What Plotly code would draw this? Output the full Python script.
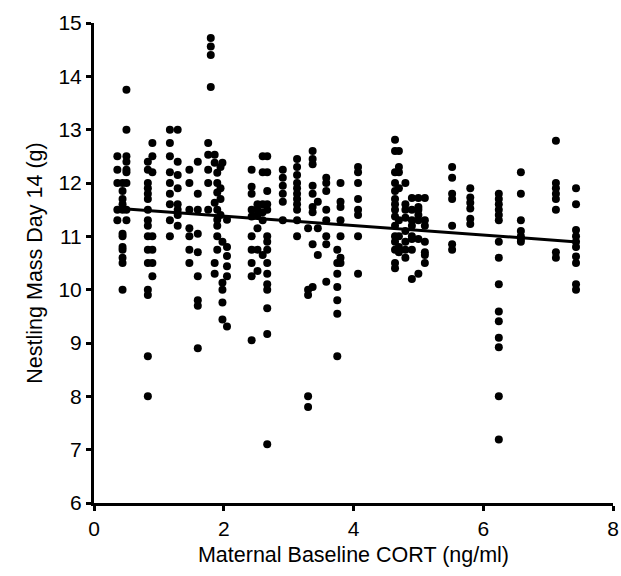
import plotly.graph_objects as go

# Maternal baseline CORT (ng/ml) for each nest column
cort = [0.36, 0.44, 0.50, 0.83, 0.90, 1.17, 1.29, 1.47, 1.60,
        1.76, 1.80, 1.86, 1.90, 1.95, 1.98, 2.05,
        2.43, 2.52, 2.60, 2.67, 2.91, 3.13,
        3.30, 3.37, 3.45, 3.58, 3.75, 3.80, 4.07,
        4.64, 4.70, 4.80, 4.90, 5.00, 5.10,
        5.52, 5.80, 6.24, 6.58, 7.12, 7.43]

# Nestling mass day 14 (g) for each column
mass = [
    [12.5, 12.25, 12.0, 11.5, 11.3],
    [12.0, 11.85, 11.7, 11.6, 11.5, 11.05, 11.0, 10.8, 10.75, 10.6, 10.5, 10.0],
    [13.75, 13.0, 12.5, 12.4, 12.25, 12.2, 12.0, 11.5, 11.3],
    [12.4, 12.25, 12.0, 11.9, 11.8, 11.7, 11.5, 11.3, 11.2, 11.0, 10.75, 10.5, 10.0, 9.9, 8.75, 8.0],
    [12.75, 12.5, 12.2, 11.0, 10.75, 10.5, 10.25],
    [13.0, 12.75, 12.5, 12.2, 12.0, 11.8, 11.6, 11.3, 11.0],
    [13.0, 12.4, 12.15, 11.9, 11.6, 11.5, 11.4, 11.2],
    [12.25, 12.0, 11.5, 11.15, 11.0, 10.75, 10.5],
    [12.4, 11.8, 11.5, 11.05, 10.7, 10.25, 9.8, 9.7, 8.9],
    [12.75, 12.53, 12.25, 12.0, 11.5],
    [14.72, 14.56, 14.4, 13.8],
    [12.53, 12.38, 11.63, 10.5, 10.3],
    [12.19, 12.0, 11.82, 11.5, 11.31, 11.2, 11.0, 10.75],
    [12.3, 11.9, 11.7, 11.4],
    [12.38, 10.9, 10.13, 10.0, 9.76, 9.44],
    [11.31, 10.8, 10.63, 10.44, 10.25, 9.31],
    [12.25, 11.93, 11.8, 11.5, 11.37, 11.0, 10.75, 10.5, 10.25, 9.05],
    [11.6, 11.5, 11.4, 11.15, 10.75, 10.35],
    [12.5, 12.2, 11.6, 11.45, 11.3, 10.65],
    [12.5, 12.2, 11.85, 11.6, 11.5, 11.0, 10.9, 10.75, 10.5, 10.3, 10.1, 10.0, 9.65, 9.17, 7.1],
    [12.25, 12.1, 11.95, 11.8, 11.65, 11.3],
    [12.45, 12.3, 12.15, 12.0, 11.9, 11.8, 11.7, 11.6, 11.5, 11.3, 11.0],
    [11.15, 10.0, 9.9, 8.0, 7.8],
    [12.6, 12.45, 12.35, 11.95, 11.8, 11.55, 11.45, 10.85, 10.05],
    [11.65, 11.15, 10.65],
    [12.1, 12.0, 11.85, 11.5, 11.3, 11.0, 10.85, 10.15],
    [10.75, 10.5, 10.3, 10.05, 9.8, 9.55, 8.75],
    [12.0, 11.65, 11.55, 11.3, 11.0, 10.6, 10.5],
    [12.3, 12.2, 12.0, 11.7, 11.5, 11.4, 11.0, 10.3],
    [12.81, 12.6, 12.2, 12.0, 11.85, 11.7, 11.6, 11.5, 11.37, 11.2, 11.0, 10.9, 10.75, 10.5, 10.4],
    [12.6, 12.3, 12.2, 11.9, 11.3, 11.0, 10.8, 10.7],
    [12.0, 11.6, 11.5, 11.35, 11.1, 10.9, 10.75, 10.6],
    [11.72, 11.5, 11.3, 11.2, 11.0, 10.95, 10.75, 10.2],
    [11.72, 11.55, 11.5, 11.4, 11.3, 10.95, 10.3],
    [11.72, 11.3, 11.2, 10.9, 10.7, 10.65, 10.5],
    [12.3, 12.1, 11.8, 11.7, 11.2, 10.85, 10.75],
    [11.9, 11.73, 11.63, 11.52, 11.33, 11.23],
    [11.8, 11.7, 11.6, 11.5, 11.4, 11.3, 10.9, 10.6, 10.1, 9.59, 9.41, 9.1, 8.92, 8.0, 7.19],
    [12.2, 11.8, 11.3, 11.1, 11.0, 10.95, 10.9],
    [12.79, 12.0, 11.9, 11.8, 11.7, 11.5, 10.7, 10.6],
    [11.9, 11.6, 11.12, 11.0, 10.9, 10.8, 10.62, 10.5, 10.1, 10.0],
]

# Regression line end points
fit_x = [0.4, 7.4]
fit_y = [11.52, 10.9]

x_ticks = [0, 2, 4, 6, 8]
y_ticks = [6, 7, 8, 9, 10, 11, 12, 13, 14, 15]

xs, ys = [], []
for cx, col in zip(cort, mass):
    for v in col:
        xs.append(cx)
        ys.append(v)

fig = go.Figure()
fig.add_trace(go.Scatter(x=xs, y=ys, mode="markers",
                         marker=dict(color="black", size=8, symbol="circle"),
                         showlegend=False, cliponaxis=False))
fig.add_trace(go.Scatter(x=fit_x, y=fit_y, mode="lines",
                         line=dict(color="black", width=3),
                         showlegend=False))

font = "Arial, Liberation Sans, sans-serif"
fig.update_layout(
    width=621, height=576,
    margin=dict(l=94, r=8, t=23, b=73),
    paper_bgcolor="white", plot_bgcolor="white",
    font=dict(family=font, color="black"),
)
fig.update_xaxes(range=[0, 8], tickvals=x_ticks, ticktext=[str(t) for t in x_ticks],
                 automargin=False,
                 showgrid=False, zeroline=False, showline=True, linecolor="black",
                 linewidth=3, ticks="outside", ticklen=5, tickwidth=3, tickcolor="black",
                 tickfont=dict(size=21, family=font, color="black"),
                 title=dict(text="Maternal Baseline CORT (ng/ml)",
                            font=dict(size=21.5, family=font, color="black"), standoff=8))
fig.update_yaxes(range=[6, 15], tickvals=y_ticks, ticktext=[str(t) for t in y_ticks],
                 automargin=False,
                 showgrid=False, zeroline=False, showline=True, linecolor="black",
                 linewidth=3, ticks="outside", ticklen=5, tickwidth=3, tickcolor="black",
                 tickfont=dict(size=21, family=font, color="black"),
                 title=dict(text="Nestling Mass Day 14 (g)",
                            font=dict(size=21.5, family=font, color="black"), standoff=10))

fig.write_html("out.html",
               config={"displayModeBar": False},
               post_script="document.body.style.margin='0';document.body.style.overflow='hidden';")
